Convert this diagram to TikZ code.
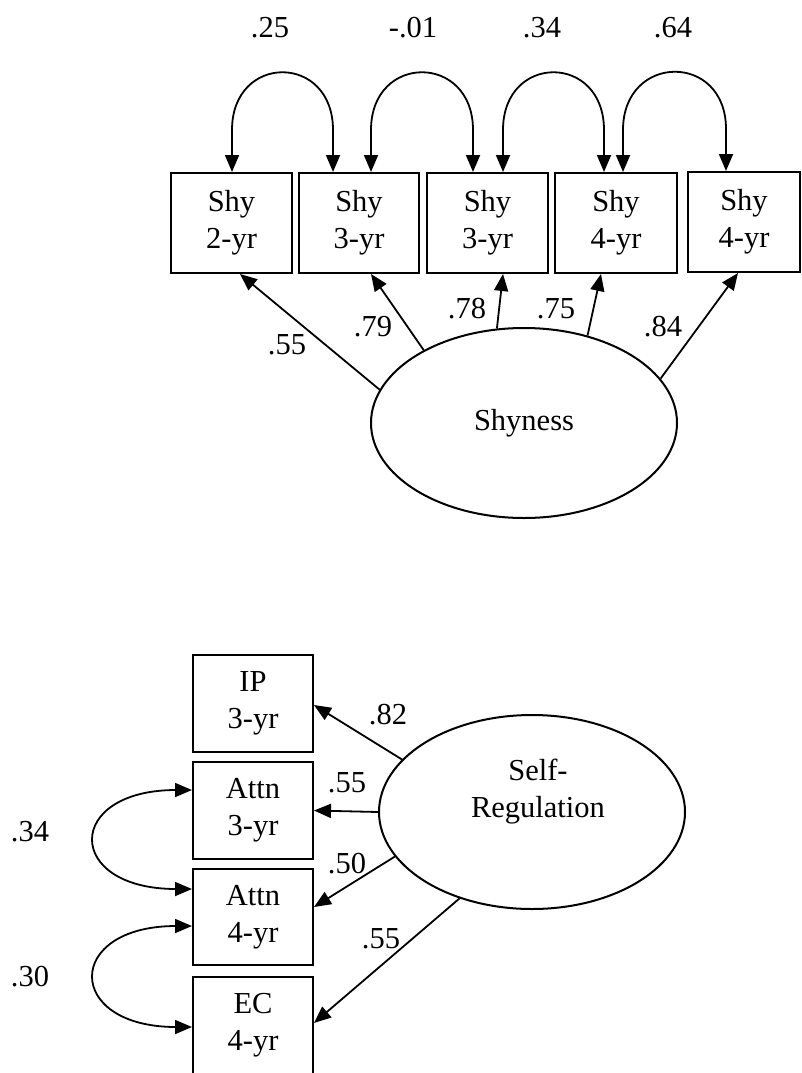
\documentclass[tikz,border=0pt]{standalone}
\usepackage{fontspec}
\setmainfont{Liberation Serif}
\usetikzlibrary{shapes.geometric,arrows.meta}
\begin{document}
\begin{tikzpicture}[x=1pt,y=-1pt,
  every node/.style={font=\fontsize{30.5}{37}\selectfont},
  box/.style={draw, line width=2pt, inner sep=0pt, minimum width=120pt, minimum height=100pt, align=center},
  lat/.style={draw, ellipse, line width=2pt, inner sep=0pt},
  lbl/.style={inner sep=0pt},
  load/.style={line width=1.8pt, -{Triangle[length=17pt,width=14pt]}},
  cov/.style={line width=1.8pt, {Triangle[length=17pt,width=14pt]}-{Triangle[length=17pt,width=14pt]}}]
\useasboundingbox (0,0) rectangle (801,1073);

% ---------- Shyness part ----------
\node[box, minimum width=121pt] (b1) at (231.5,223) {Shy\\2-yr};
\node[box] (b2) at (359,223) {Shy\\3-yr};
\node[box, minimum width=121pt] (b3) at (487.5,223) {Shy\\3-yr};
\node[box, minimum width=122pt] (b4) at (616,223) {Shy\\4-yr};
\node[box, minimum width=112pt] (b5) at (744,222) {Shy\\4-yr};

\node[lat, minimum width=306pt, minimum height=190pt] (shy) at (524,423) {Shyness};

\draw[cov] ([xshift=0.5pt]b1.north) -- ++(0,-42) .. controls +(0,-77) and +(0,-77) .. ([xshift=-26pt,yshift=42pt]b2.north) -- ([xshift=-26pt]b2.north);
\draw[cov] ([xshift=12pt]b2.north) -- ++(0,-42) .. controls +(0,-77) and +(0,-77) .. ([xshift=-14.5pt,yshift=42pt]b3.north) -- ([xshift=-14.5pt]b3.north);
\draw[cov] ([xshift=15.5pt]b3.north) -- ++(0,-42) .. controls +(0,-77) and +(0,-77) .. ([xshift=-12pt,yshift=42pt]b4.north) -- ([xshift=-12pt]b4.north);
\draw[cov] ([xshift=7pt]b4.north) -- ++(0,-42) .. controls +(0,-77) and +(0,-77) .. ([xshift=-18pt,yshift=42pt]b5.north) -- ([xshift=-18pt]b5.north);

\node[lbl] (c1) at (270,28) {.25};
\node[lbl] (c2) at (413,28) {-.01};
\node[lbl] (c3) at (542,28) {.34};
\node[lbl] (c4) at (673,28) {.64};

\draw[load] (shy.167.9) -- ([xshift=8.5pt]b1.south);
\draw[load] (shy.144.5) -- ([xshift=12pt]b2.south);
\draw[load] (shy.106.2) -- ([xshift=15.5pt]b3.south);
\draw[load] (shy.54.4) -- ([xshift=-15pt]b4.south);
\draw[load] (shy.18.7) -- ([xshift=-6pt]b5.south);

\node[lbl] (l1) at (287,345) {.55};
\node[lbl] (l2) at (373,327) {.79};
\node[lbl] (l3) at (467,309) {.78};
\node[lbl] (l4) at (556,309) {.75};
\node[lbl] (l5) at (663,327) {.84};

% ---------- Self-Regulation part ----------
\node[box, minimum height=97pt] (ip) at (253,703.5) {IP\\3-yr};
\node[box, minimum height=97pt] (a3) at (253,810.5) {Attn\\3-yr};
\node[box, minimum height=96pt] (a4) at (253,917) {Attn\\4-yr};
\node[box, minimum height=97pt] (ec) at (253,1025.5) {EC\\4-yr};

\node[lat, minimum width=306pt, minimum height=194pt] (sr) at (532,812) {};
\node[lbl, align=center] (srt) at (538,792) {Self-\\Regulation};

\draw[load] (sr.158) -- ([yshift=-1.5pt]ip.east);
\draw[load] (sr.180) -- (a3.east);
\draw[load] (sr.198) -- ([yshift=10pt]a4.east);
\draw[load] (sr.230.9) -- ([yshift=2.5pt]ec.east);

\node[lbl] (m1) at (388,715) {.82};
\node[lbl] (m2) at (347,783) {.55};
\node[lbl] (m3) at (347,864) {.50};
\node[lbl] (m4) at (381,939) {.55};

\draw[cov] ([yshift=20.5pt]a3.west) -- ++(-16,0) .. controls +(-112,0) and +(-112,0) .. ([xshift=-16pt,yshift=28pt]a4.west) -- ([yshift=28pt]a4.west);
\draw[cov] ([yshift=-9pt]a4.west) -- ++(-16,0) .. controls +(-112,0) and +(-112,0) .. ([xshift=-16pt,yshift=-1.5pt]ec.west) -- ([yshift=-1.5pt]ec.west);

\node[lbl] (r1) at (30,832) {.34};
\node[lbl] (r2) at (30,977) {.30};
\end{tikzpicture}
\end{document}
